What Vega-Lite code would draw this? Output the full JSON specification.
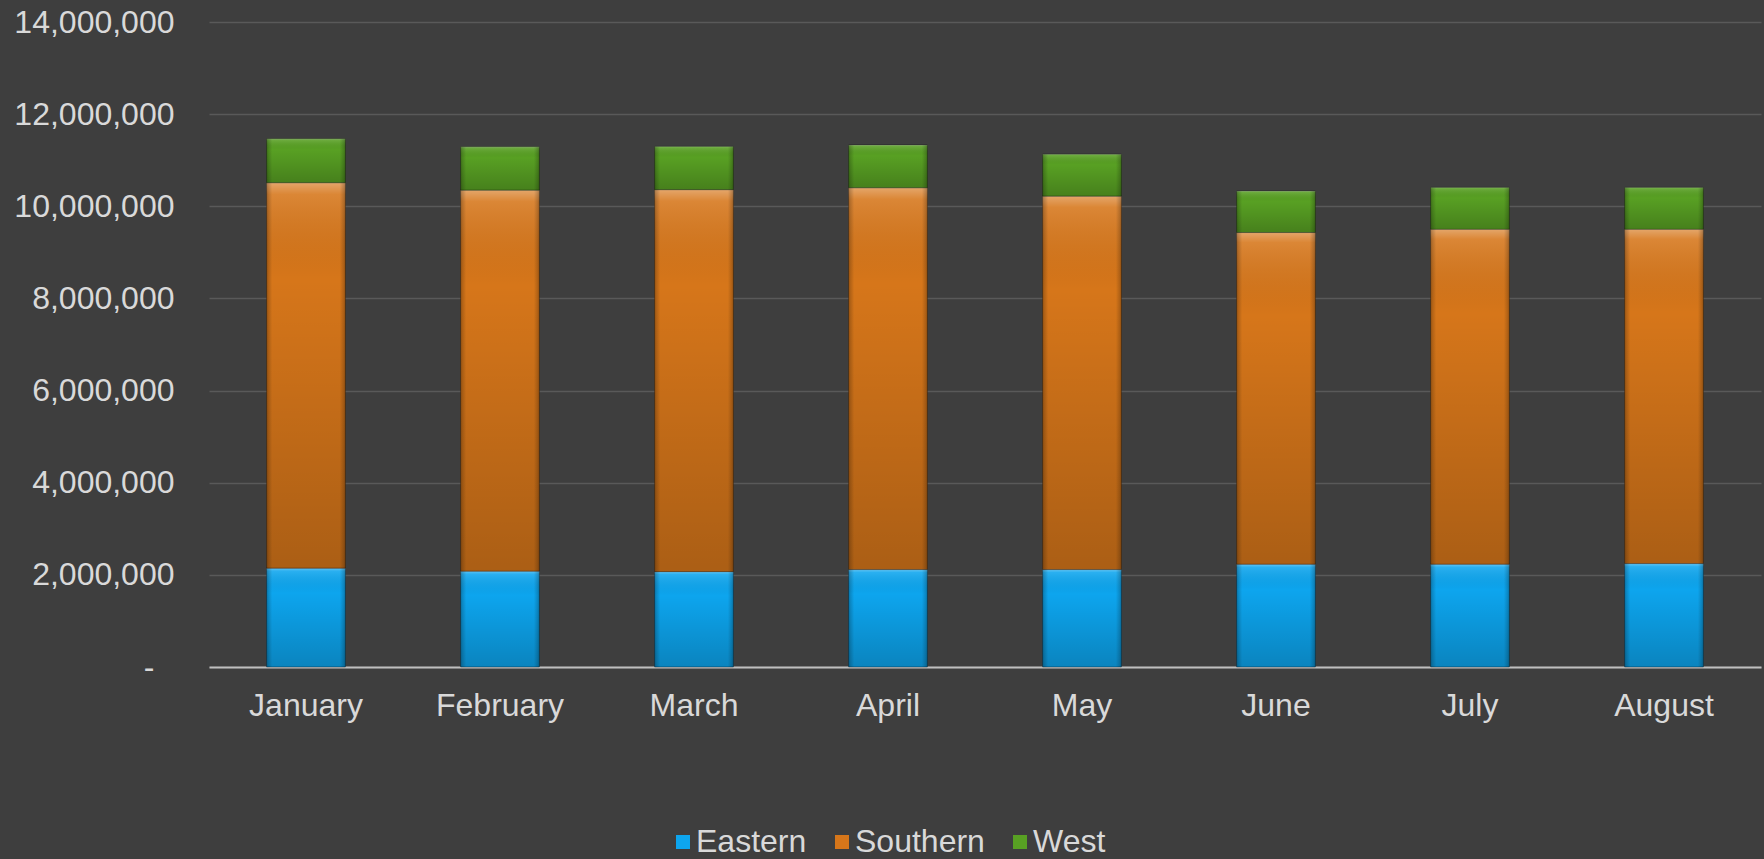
{
  "$schema": "https://vega.github.io/schema/vega-lite/v6.json",
  "width": 1552,
  "height": 645,
  "autosize": {"type": "none"},
  "padding": {"left": 209, "top": 22, "right": 3, "bottom": 192},
  "background": "#3e3e3e",
  "config": {
    "font": "Liberation Sans",
    "view": {"stroke": null},
    "axis": {"labelFont": "Liberation Sans", "labelColor": "#d9d9d9", "labelFontSize": 32}
  },
  "data": {
    "values": [
      {"month": "January", "region": "Eastern", "value": 2145000},
      {"month": "January", "region": "Southern", "value": 8365000},
      {"month": "January", "region": "West", "value": 955000},
      {"month": "February", "region": "Eastern", "value": 2080000},
      {"month": "February", "region": "Southern", "value": 8270000},
      {"month": "February", "region": "West", "value": 940000},
      {"month": "March", "region": "Eastern", "value": 2070000},
      {"month": "March", "region": "Southern", "value": 8290000},
      {"month": "March", "region": "West", "value": 940000},
      {"month": "April", "region": "Eastern", "value": 2115000},
      {"month": "April", "region": "Southern", "value": 8285000},
      {"month": "April", "region": "West", "value": 930000},
      {"month": "May", "region": "Eastern", "value": 2115000},
      {"month": "May", "region": "Southern", "value": 8105000},
      {"month": "May", "region": "West", "value": 910000},
      {"month": "June", "region": "Eastern", "value": 2230000},
      {"month": "June", "region": "Southern", "value": 7200000},
      {"month": "June", "region": "West", "value": 900000},
      {"month": "July", "region": "Eastern", "value": 2230000},
      {"month": "July", "region": "Southern", "value": 7270000},
      {"month": "July", "region": "West", "value": 910000},
      {"month": "August", "region": "Eastern", "value": 2245000},
      {"month": "August", "region": "Southern", "value": 7255000},
      {"month": "August", "region": "West", "value": 910000}
    ]
  },
  "encoding": {
    "x": {
      "field": "month",
      "type": "nominal",
      "sort": ["January", "February", "March", "April", "May", "June", "July", "August"],
      "scale": {"paddingInner": 0.594, "paddingOuter": 0.297},
      "axis": {
        "title": null,
        "labelAngle": 0,
        "ticks": false,
        "domainColor": "#bfbfbf",
        "domainWidth": 2,
        "labelPadding": 23,
        "grid": false
      }
    },
    "y": {
      "field": "value",
      "type": "quantitative",
      "stack": "zero",
      "scale": {"domain": [0, 14000000], "nice": false},
      "axis": {
        "title": null,
        "domain": false,
        "ticks": false,
        "values": [0, 2000000, 4000000, 6000000, 8000000, 10000000, 12000000, 14000000],
        "labelExpr": "datum.value === 0 ? '-' : format(datum.value, ',')",
        "labelPadding": {"condition": {"test": "datum.value === 0", "value": 55}, "value": 35},
        "gridColor": "#ffffff",
        "gridOpacity": 0.14,
        "gridWidth": 1.5
      }
    },
    "detail": {"field": "region", "type": "nominal"},
    "order": {"field": "region", "type": "nominal", "sort": "ascending"}
  },
  "layer": [
    {
      "mark": {"type": "bar", "stroke": "rgba(0,0,0,0.35)", "strokeWidth": 1},
      "encoding": {
        "color": {
          "field": "region",
          "type": "nominal",
          "scale": {"domain": ["Eastern", "Southern", "West"], "range": ["#0DA5EE", "#D6761A", "#58A023"]},
          "legend": {
            "title": null,
            "orient": "none",
            "direction": "horizontal",
            "legendX": 458,
            "legendY": 804,
            "symbolType": "square",
            "symbolSize": 196,
            "symbolStrokeWidth": 0,
            "labelFontSize": 32,
            "labelFont": "Liberation Sans",
            "labelColor": "#d9d9d9",
            "labelOffset": -3,
            "columnPadding": 19
          }
        }
      }
    },
    {
      "mark": {
        "type": "bar",
        "fill": {
          "gradient": "linear", "x1": 0, "y1": 0, "x2": 0, "y2": 1,
          "stops": [
            {"offset": 0, "color": "rgba(255,255,255,0.35)"},
            {"offset": 0.03, "color": "rgba(255,255,255,0.12)"},
            {"offset": 0.25, "color": "rgba(0,0,0,0)"},
            {"offset": 1, "color": "rgba(0,0,0,0.2)"}
          ]
        }
      }
    },
    {
      "mark": {
        "type": "bar",
        "fill": {
          "gradient": "linear", "x1": 0, "y1": 0, "x2": 1, "y2": 0,
          "stops": [
            {"offset": 0, "color": "rgba(0,0,0,0.25)"},
            {"offset": 0.07, "color": "rgba(0,0,0,0)"},
            {"offset": 0.93, "color": "rgba(0,0,0,0)"},
            {"offset": 1, "color": "rgba(0,0,0,0.25)"}
          ]
        }
      }
    }
  ]
}
